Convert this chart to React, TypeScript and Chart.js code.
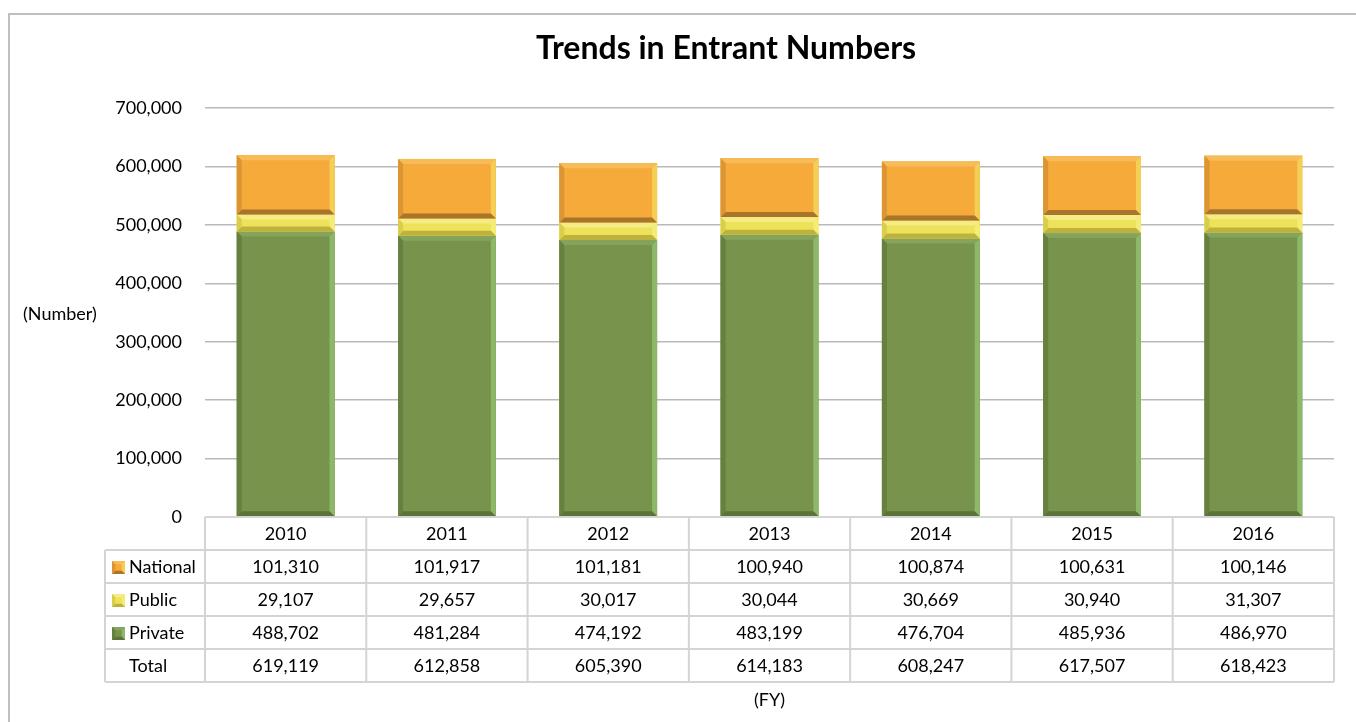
import React, { useEffect, useRef } from "react";
import { Chart, registerables } from "chart.js";

Chart.register(...registerables);

const years = ["2010", "2011", "2012", "2013", "2014", "2015", "2016"];
const nationalValues = [101310, 101917, 101181, 100940, 100874, 100631, 100146];
const publicValues = [29107, 29657, 30017, 30044, 30669, 30940, 31307];
const privateValues = [488702, 481284, 474192, 483199, 476704, 485936, 486970];
const totalValues = [619119, 612858, 605390, 614183, 608247, 617507, 618423];

const titleText = "Trends in Entrant Numbers";
const yAxisLabel = "(Number)";
const xAxisLabel = "(FY)";

const FONT = "Lato, 'Open Sans', sans-serif";

type Bevel = { main: string; top: string; right: string; bottom: string; left: string };

const bevels: Record<string, Bevel> = {
  Private: { main: "#77934c", top: "#86a35c", right: "#8cb868", bottom: "#5b7239", left: "#66803f" },
  Public: { main: "#eee25a", top: "#f4ec84", right: "#f3ec76", bottom: "#bdb23e", left: "#d9ce4c" },
  National: { main: "#f5aa3a", top: "#f7bb58", right: "#f3cf56", bottom: "#a8752a", left: "#db9532" },
};

const fmt = (v: number) => v.toLocaleString("en-US");

function drawBevelRect(ctx: CanvasRenderingContext2D, l: number, t: number, r: number, b: number, bv: Bevel, size: number) {
  const s = Math.max(1, Math.min(size, (b - t) / 3, (r - l) / 4));
  ctx.fillStyle = bv.main;
  ctx.fillRect(l, t, r - l, b - t);
  const poly = (pts: number[][], c: string) => {
    ctx.beginPath();
    ctx.moveTo(pts[0][0], pts[0][1]);
    for (let i = 1; i < pts.length; i++) ctx.lineTo(pts[i][0], pts[i][1]);
    ctx.closePath();
    ctx.fillStyle = c;
    ctx.fill();
  };
  poly([[l, t], [r, t], [r - s, t + s], [l + s, t + s]], bv.top);
  poly([[r, t], [r, b], [r - s, b - s], [r - s, t + s]], bv.right);
  poly([[l, b], [r, b], [r - s, b - s], [l + s, b - s]], bv.bottom);
  poly([[l, t], [l + s, t + s], [l + s, b - s], [l, b]], bv.left);
}

const bevelPlugin = {
  id: "bevelBars",
  afterDatasetsDraw(chart: any) {
    const ctx = chart.ctx as CanvasRenderingContext2D;
    ctx.save();
    chart.data.datasets.forEach((ds: any, di: number) => {
      const meta = chart.getDatasetMeta(di);
      const bv = bevels[ds.label];
      meta.data.forEach((el: any) => {
        const p = el.getProps(["x", "y", "base", "width"], true);
        const l = p.x - p.width / 2;
        const r = p.x + p.width / 2;
        const t = Math.min(p.y, p.base);
        const b = Math.max(p.y, p.base);
        drawBevelRect(ctx, l, t, r, b, bv, 5);
      });
    });
    ctx.restore();
  },
};

const framePlugin = {
  id: "frameTable",
  beforeDraw(chart: any) {
    const ctx = chart.ctx as CanvasRenderingContext2D;
    ctx.save();
    ctx.fillStyle = "#ffffff";
    ctx.fillRect(0, 0, chart.width, chart.height);
    ctx.strokeStyle = "#bfbfbf";
    ctx.lineWidth = 2;
    ctx.strokeRect(9, 14, chart.width + 40, chart.height + 40);
    ctx.restore();
  },
  afterDraw(chart: any) {
    const ctx = chart.ctx as CanvasRenderingContext2D;
    const area = chart.chartArea;
    const xs = chart.scales.x;
    ctx.save();

    ctx.fillStyle = "#000000";
    ctx.font = `bold 32px ${FONT}`;
    ctx.textAlign = "center";
    ctx.textBaseline = "middle";
    ctx.fillText(titleText, 726, 49);

    ctx.font = `18px ${FONT}`;
    ctx.fillStyle = "#000000";
    ctx.textAlign = "left";
    ctx.fillText(yAxisLabel, 23, 314);

    const n = years.length;
    const colW = (area.right - area.left) / n;
    const rowH = 33;
    const top = area.bottom;
    const rows = [
      { label: "National", values: nationalValues, key: bevels.National },
      { label: "Public", values: publicValues, key: bevels.Public },
      { label: "Private", values: privateValues, key: bevels.Private },
      { label: "Total", values: totalValues, key: null as Bevel | null },
    ];
    const leftX = 105;
    const bottom = top + rowH * (rows.length + 1);

    ctx.strokeStyle = "#d4d4d4";
    ctx.lineWidth = 2;
    ctx.beginPath();
    ctx.moveTo(area.left, top);
    ctx.lineTo(area.right, top);
    for (let i = 1; i <= rows.length + 1; i++) {
      ctx.moveTo(leftX, top + rowH * i);
      ctx.lineTo(area.right, top + rowH * i);
    }
    ctx.moveTo(leftX, top + rowH);
    ctx.lineTo(leftX, bottom);
    for (let i = 0; i <= n; i++) {
      const x = area.left + colW * i;
      ctx.moveTo(x, top);
      ctx.lineTo(x, bottom);
    }
    ctx.stroke();

    ctx.fillStyle = "#000000";
    ctx.font = `18px ${FONT}`;
    ctx.textBaseline = "middle";
    ctx.textAlign = "center";
    years.forEach((yr, i) => {
      const cx = xs.getPixelForValue(i);
      ctx.fillText(yr, cx, top + rowH / 2 + 1);
    });
    rows.forEach((row, ri) => {
      const cy = top + rowH * (ri + 1) + rowH / 2 + 1;
      ctx.textAlign = "left";
      ctx.fillStyle = "#000000";
      ctx.fillText(row.label, 129, cy);
      if (row.key) {
        drawBevelRect(ctx, 112, cy - 6.5, 125, cy + 6.5, row.key, 4);
      }
      ctx.textAlign = "center";
      ctx.fillStyle = "#000000";
      row.values.forEach((v, i) => {
        ctx.fillText(fmt(v), xs.getPixelForValue(i), cy);
      });
    });

    ctx.textAlign = "center";
    ctx.fillText(xAxisLabel, (area.left + area.right) / 2, 700);
    ctx.restore();
  },
};

export default function App() {
  const ref = useRef<HTMLCanvasElement | null>(null);
  useEffect(() => {
    if (!ref.current) return;
    const chart = new Chart(ref.current, {
      type: "bar",
      data: {
        labels: years,
        datasets: [
          { label: "Private", data: privateValues, backgroundColor: bevels.Private.main },
          { label: "Public", data: publicValues, backgroundColor: bevels.Public.main },
          { label: "National", data: nationalValues, backgroundColor: bevels.National.main },
        ],
      },
      options: {
        responsive: false,
        animation: false,
        devicePixelRatio: 1,
        layout: { padding: { top: 108, right: 22, bottom: 205, left: 0 } },
        plugins: {
          legend: { display: false },
          title: { display: false },
          tooltip: { enabled: false },
        },
        datasets: { bar: { categoryPercentage: 1, barPercentage: 0.606 } },
        scales: {
          x: { stacked: true, display: false },
          y: {
            stacked: true,
            min: 0,
            max: 700000,
            afterFit(scale: any) {
              scale.width = 205;
            },
            border: { display: false },
            grid: { color: "#b9b9b9", lineWidth: 1.5, drawTicks: false },
            ticks: {
              stepSize: 100000,
              padding: 23,
              color: "#000000",
              font: { family: FONT, size: 18 },
              callback: (v: any) => fmt(Number(v)),
            },
          },
        },
      },
      plugins: [framePlugin, bevelPlugin],
    });
    return () => chart.destroy();
  }, []);
  return (
    <div style={{ position: "absolute", left: 0, top: 0, width: 1356, height: 722 }}>
      <canvas ref={ref} width={1356} height={722} style={{ display: "block" }} />
    </div>
  );
}
